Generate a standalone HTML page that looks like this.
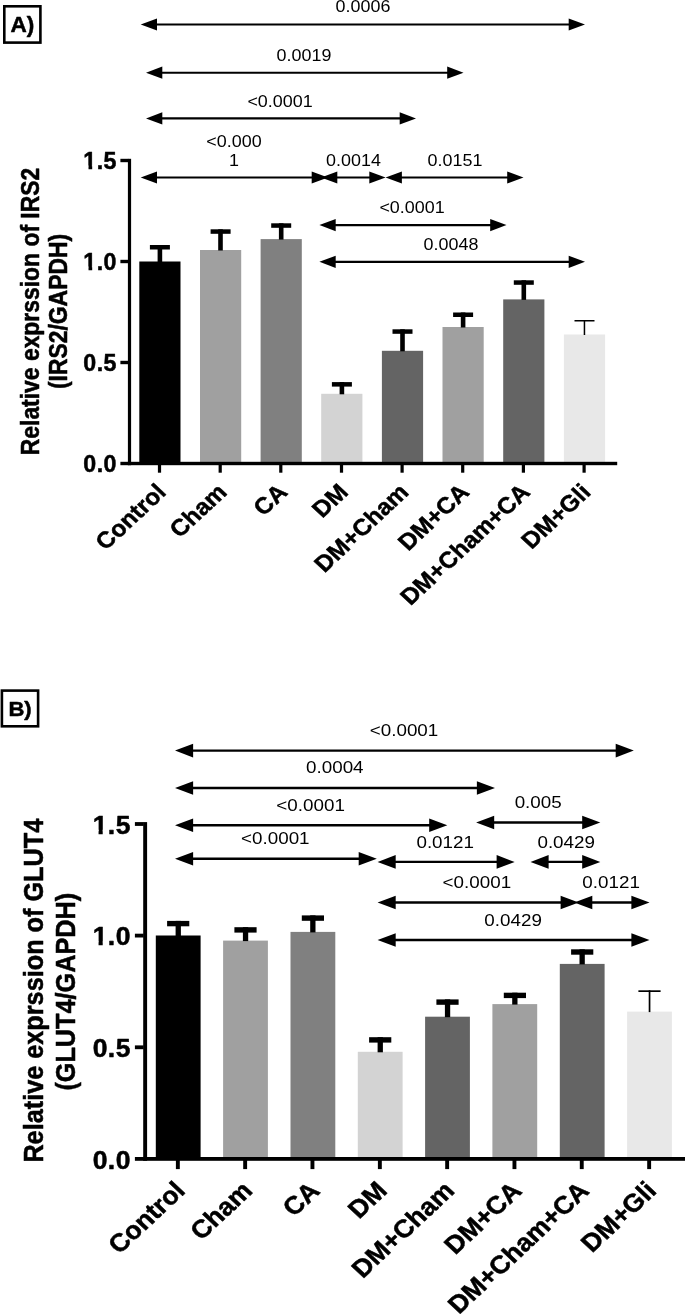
<!DOCTYPE html>
<html><head><meta charset="utf-8"><title>Figure</title>
<style>
html,body{margin:0;padding:0;background:#fff;}
body{width:685px;height:1314px;overflow:hidden;}
svg{display:block;will-change:transform;font-family:'Liberation Sans', Arial, sans-serif;}
</style></head><body>
<svg width="685" height="1314" viewBox="0 0 685 1314" fill="#000">
<rect width="685" height="1314" fill="#fff"/>
<rect x="139.3" y="261.5" width="41.2" height="202.0" fill="#000000"/>
<rect x="157.6" y="245.0" width="4.6" height="17.0" fill="#000"/>
<rect x="149.9" y="245.0" width="20.0" height="4.5" fill="#000"/>
<rect x="157.9" y="463.5" width="3.2" height="9.2" fill="#000"/>
<text transform="translate(167.4,493.5) scale(1.07,1) rotate(-45)" font-size="23.00" text-anchor="end" font-weight="bold" stroke="#000" stroke-width="0.5" stroke-linejoin="round">Control</text>
<rect x="200.0" y="250.0" width="41.2" height="213.5" fill="#a0a0a0"/>
<rect x="218.2" y="229.3" width="4.6" height="21.2" fill="#000"/>
<rect x="210.6" y="229.3" width="20.0" height="4.5" fill="#000"/>
<rect x="218.6" y="463.5" width="3.2" height="9.2" fill="#000"/>
<text transform="translate(228.1,493.5) scale(1.07,1) rotate(-45)" font-size="23.00" text-anchor="end" font-weight="bold" stroke="#000" stroke-width="0.5" stroke-linejoin="round">Cham</text>
<rect x="260.6" y="239.1" width="41.2" height="224.4" fill="#808080"/>
<rect x="278.9" y="223.3" width="4.6" height="16.3" fill="#000"/>
<rect x="271.2" y="223.3" width="20.0" height="4.5" fill="#000"/>
<rect x="279.2" y="463.5" width="3.2" height="9.2" fill="#000"/>
<text transform="translate(288.7,493.5) scale(1.07,1) rotate(-45)" font-size="23.00" text-anchor="end" font-weight="bold" stroke="#000" stroke-width="0.5" stroke-linejoin="round">CA</text>
<rect x="321.2" y="393.8" width="41.2" height="69.7" fill="#d3d3d3"/>
<rect x="339.6" y="382.1" width="4.6" height="12.2" fill="#000"/>
<rect x="331.9" y="382.1" width="20.0" height="4.5" fill="#000"/>
<rect x="339.9" y="463.5" width="3.2" height="9.2" fill="#000"/>
<text transform="translate(349.4,493.5) scale(1.07,1) rotate(-45)" font-size="23.00" text-anchor="end" font-weight="bold" stroke="#000" stroke-width="0.5" stroke-linejoin="round">DM</text>
<rect x="381.9" y="350.8" width="41.2" height="112.7" fill="#646464"/>
<rect x="400.2" y="329.3" width="4.6" height="22.0" fill="#000"/>
<rect x="392.5" y="329.3" width="20.0" height="4.5" fill="#000"/>
<rect x="400.5" y="463.5" width="3.2" height="9.2" fill="#000"/>
<text transform="translate(410.0,493.5) scale(1.07,1) rotate(-45)" font-size="23.00" text-anchor="end" font-weight="bold" stroke="#000" stroke-width="0.5" stroke-linejoin="round">DM+Cham</text>
<rect x="442.5" y="327.0" width="41.2" height="136.5" fill="#a0a0a0"/>
<rect x="460.8" y="312.5" width="4.6" height="15.0" fill="#000"/>
<rect x="453.1" y="312.5" width="20.0" height="4.5" fill="#000"/>
<rect x="461.1" y="463.5" width="3.2" height="9.2" fill="#000"/>
<text transform="translate(470.6,493.5) scale(1.07,1) rotate(-45)" font-size="23.00" text-anchor="end" font-weight="bold" stroke="#000" stroke-width="0.5" stroke-linejoin="round">DM+CA</text>
<rect x="503.2" y="299.4" width="41.2" height="164.1" fill="#646464"/>
<rect x="521.5" y="280.3" width="4.6" height="19.6" fill="#000"/>
<rect x="513.8" y="280.3" width="20.0" height="4.5" fill="#000"/>
<rect x="521.8" y="463.5" width="3.2" height="9.2" fill="#000"/>
<text transform="translate(531.3,493.5) scale(1.07,1) rotate(-45)" font-size="23.00" text-anchor="end" font-weight="bold" stroke="#000" stroke-width="0.5" stroke-linejoin="round">DM+Cham+CA</text>
<rect x="563.9" y="334.5" width="41.2" height="129.0" fill="#e8e8e8"/>
<rect x="583.7" y="320.0" width="1.5" height="15.0" fill="#000"/>
<rect x="574.5" y="320.0" width="20.0" height="1.5" fill="#000"/>
<rect x="582.5" y="463.5" width="3.2" height="9.2" fill="#000"/>
<text transform="translate(592.0,493.5) scale(1.07,1) rotate(-45)" font-size="23.00" text-anchor="end" font-weight="bold" stroke="#000" stroke-width="0.5" stroke-linejoin="round">DM+Gli</text>
<rect x="127.9" y="158.8" width="3.2" height="306.4" fill="#000"/>
<rect x="127.9" y="461.8" width="489.3" height="3.4" fill="#000"/>
<rect x="120.4" y="461.8" width="8.0" height="3.4" fill="#000"/>
<g transform="translate(116.4,472.3) scale(1.0,1)"><text x="-33.05" y="0" font-size="23.20" font-weight="bold" stroke="#000" stroke-width="0.5" stroke-linejoin="round" letter-spacing="0.40">0.0</text></g>
<rect x="120.4" y="360.8" width="8.0" height="3.4" fill="#000"/>
<g transform="translate(116.4,371.3) scale(1.0,1)"><text x="-33.05" y="0" font-size="23.20" font-weight="bold" stroke="#000" stroke-width="0.5" stroke-linejoin="round" letter-spacing="0.40">0.5</text></g>
<rect x="120.4" y="259.8" width="8.0" height="3.4" fill="#000"/>
<g transform="translate(116.4,270.3) scale(1.0,1)"><text x="-33.05" y="0" font-size="23.20" font-weight="bold" stroke="#000" stroke-width="0.5" stroke-linejoin="round" letter-spacing="0.40">1.0</text><rect x="-32.44" y="-3.72" width="4.55" height="5.47" fill="#fff"/><rect x="-24.20" y="-3.72" width="4.26" height="5.47" fill="#fff"/></g>
<rect x="120.4" y="158.8" width="8.0" height="3.4" fill="#000"/>
<g transform="translate(116.4,169.3) scale(1.0,1)"><text x="-33.05" y="0" font-size="23.20" font-weight="bold" stroke="#000" stroke-width="0.5" stroke-linejoin="round" letter-spacing="0.40">1.5</text><rect x="-32.44" y="-3.72" width="4.55" height="5.47" fill="#fff"/><rect x="-24.20" y="-3.72" width="4.26" height="5.47" fill="#fff"/></g>
<text transform="translate(38.8,311.5) scale(1.087,1) rotate(-90)" font-size="22.90" text-anchor="middle" font-weight="bold" stroke="#000" stroke-width="0.5" stroke-linejoin="round">Relative exprssion of IRS2</text>
<text transform="translate(67.2,311.5) scale(1.087,1) rotate(-90)" font-size="22.90" text-anchor="middle" font-weight="bold" stroke="#000" stroke-width="0.5" stroke-linejoin="round">(IRS2/GAPDH)</text>
<line x1="156.0" y1="24.5" x2="569.7" y2="24.5" stroke="#000" stroke-width="2.15"/><polygon points="140.7,24.5 157.0,18.4 157.0,30.6"/><polygon points="585.0,24.5 568.7,18.4 568.7,30.6"/>
<line x1="161.3" y1="72.7" x2="448.2" y2="72.7" stroke="#000" stroke-width="2.15"/><polygon points="146.0,72.7 162.3,66.6 162.3,78.8"/><polygon points="463.5,72.7 447.2,66.6 447.2,78.8"/>
<line x1="161.3" y1="118.4" x2="400.7" y2="118.4" stroke="#000" stroke-width="2.15"/><polygon points="146.0,118.4 162.3,112.3 162.3,124.5"/><polygon points="416.0,118.4 399.7,112.3 399.7,124.5"/>
<line x1="156.0" y1="177.5" x2="312.7" y2="177.5" stroke="#000" stroke-width="2.15"/><polygon points="140.7,177.5 157.0,171.4 157.0,183.6"/><polygon points="328.0,177.5 311.7,171.4 311.7,183.6"/>
<line x1="336.3" y1="177.5" x2="370.3" y2="177.5" stroke="#000" stroke-width="2.15"/><polygon points="321.0,177.5 337.3,171.4 337.3,183.6"/><polygon points="385.6,177.5 369.3,171.4 369.3,183.6"/>
<line x1="400.9" y1="177.5" x2="508.2" y2="177.5" stroke="#000" stroke-width="2.15"/><polygon points="385.6,177.5 401.9,171.4 401.9,183.6"/><polygon points="523.5,177.5 507.2,171.4 507.2,183.6"/>
<line x1="334.7" y1="225.1" x2="491.2" y2="225.1" stroke="#000" stroke-width="2.15"/><polygon points="319.4,225.1 335.7,219.0 335.7,231.2"/><polygon points="506.5,225.1 490.2,219.0 490.2,231.2"/>
<line x1="334.7" y1="261.8" x2="569.7" y2="261.8" stroke="#000" stroke-width="2.15"/><polygon points="319.4,261.8 335.7,255.7 335.7,267.9"/><polygon points="585.0,261.8 568.7,255.7 568.7,267.9"/>
<text transform="translate(363.0,12.0) scale(1.12,1)" font-size="16.00" text-anchor="middle">0.0006</text>
<text transform="translate(304.0,60.8) scale(1.12,1)" font-size="16.00" text-anchor="middle">0.0019</text>
<text transform="translate(280.0,106.6) scale(1.12,1)" font-size="16.00" text-anchor="middle">&lt;0.0001</text>
<text transform="translate(234.0,147.0) scale(1.12,1)" font-size="16.00" text-anchor="middle">&lt;0.000</text>
<text transform="translate(234.0,165.5) scale(1.12,1)" font-size="16.00" text-anchor="middle">1</text>
<text transform="translate(353.5,165.5) scale(1.12,1)" font-size="16.00" text-anchor="middle">0.0014</text>
<text transform="translate(455.0,165.5) scale(1.12,1)" font-size="16.00" text-anchor="middle">0.0151</text>
<text transform="translate(412.0,213.0) scale(1.12,1)" font-size="16.00" text-anchor="middle">&lt;0.0001</text>
<text transform="translate(451.0,250.0) scale(1.12,1)" font-size="16.00" text-anchor="middle">0.0048</text>
<rect x="4.3" y="6.3" width="36.1" height="36.3" fill="#fff" stroke="#000" stroke-width="2.6"/>
<text transform="translate(22.4,31.9) scale(1.05,1)" font-size="21.50" text-anchor="middle" font-weight="bold" stroke="#000" stroke-width="0.5" stroke-linejoin="round">A)</text>
<rect x="155.8" y="935.5" width="44.8" height="223.4" fill="#000000"/>
<rect x="175.6" y="920.9" width="5.3" height="15.1" fill="#000"/>
<rect x="167.1" y="920.9" width="22.2" height="5.4" fill="#000"/>
<rect x="175.9" y="1158.9" width="3.9" height="10.2" fill="#000"/>
<text transform="translate(186.5,1192.1) scale(1.07,1) rotate(-45)" font-size="25.04" text-anchor="end" font-weight="bold" stroke="#000" stroke-width="0.5" stroke-linejoin="round">Control</text>
<rect x="223.1" y="940.6" width="44.8" height="218.3" fill="#a0a0a0"/>
<rect x="242.9" y="927.2" width="5.3" height="13.9" fill="#000"/>
<rect x="234.4" y="927.2" width="22.2" height="5.4" fill="#000"/>
<rect x="243.2" y="1158.9" width="3.9" height="10.2" fill="#000"/>
<text transform="translate(253.8,1192.1) scale(1.07,1) rotate(-45)" font-size="25.04" text-anchor="end" font-weight="bold" stroke="#000" stroke-width="0.5" stroke-linejoin="round">Cham</text>
<rect x="290.5" y="931.9" width="44.8" height="227.0" fill="#808080"/>
<rect x="310.2" y="915.4" width="5.3" height="17.0" fill="#000"/>
<rect x="301.8" y="915.4" width="22.2" height="5.4" fill="#000"/>
<rect x="310.5" y="1158.9" width="3.9" height="10.2" fill="#000"/>
<text transform="translate(321.2,1192.1) scale(1.07,1) rotate(-45)" font-size="25.04" text-anchor="end" font-weight="bold" stroke="#000" stroke-width="0.5" stroke-linejoin="round">CA</text>
<rect x="357.8" y="1051.8" width="44.8" height="107.1" fill="#d3d3d3"/>
<rect x="377.6" y="1037.2" width="5.3" height="15.1" fill="#000"/>
<rect x="369.1" y="1037.2" width="22.2" height="5.4" fill="#000"/>
<rect x="377.9" y="1158.9" width="3.9" height="10.2" fill="#000"/>
<text transform="translate(388.5,1192.1) scale(1.07,1) rotate(-45)" font-size="25.04" text-anchor="end" font-weight="bold" stroke="#000" stroke-width="0.5" stroke-linejoin="round">DM</text>
<rect x="425.1" y="1016.7" width="44.8" height="142.2" fill="#646464"/>
<rect x="444.9" y="999.4" width="5.3" height="17.8" fill="#000"/>
<rect x="436.4" y="999.4" width="22.2" height="5.4" fill="#000"/>
<rect x="445.2" y="1158.9" width="3.9" height="10.2" fill="#000"/>
<text transform="translate(455.8,1192.1) scale(1.07,1) rotate(-45)" font-size="25.04" text-anchor="end" font-weight="bold" stroke="#000" stroke-width="0.5" stroke-linejoin="round">DM+Cham</text>
<rect x="492.4" y="1004.1" width="44.8" height="154.8" fill="#a0a0a0"/>
<rect x="512.2" y="992.7" width="5.3" height="11.9" fill="#000"/>
<rect x="503.8" y="992.7" width="22.2" height="5.4" fill="#000"/>
<rect x="512.5" y="1158.9" width="3.9" height="10.2" fill="#000"/>
<text transform="translate(523.1,1192.1) scale(1.07,1) rotate(-45)" font-size="25.04" text-anchor="end" font-weight="bold" stroke="#000" stroke-width="0.5" stroke-linejoin="round">DM+CA</text>
<rect x="559.8" y="963.9" width="44.8" height="195.0" fill="#646464"/>
<rect x="579.5" y="949.3" width="5.3" height="15.1" fill="#000"/>
<rect x="571.1" y="949.3" width="22.2" height="5.4" fill="#000"/>
<rect x="579.8" y="1158.9" width="3.9" height="10.2" fill="#000"/>
<text transform="translate(590.5,1192.1) scale(1.07,1) rotate(-45)" font-size="25.04" text-anchor="end" font-weight="bold" stroke="#000" stroke-width="0.5" stroke-linejoin="round">DM+Cham+CA</text>
<rect x="627.1" y="1011.6" width="44.8" height="147.3" fill="#e8e8e8"/>
<rect x="648.7" y="990.3" width="1.7" height="21.8" fill="#000"/>
<rect x="638.4" y="990.3" width="22.2" height="1.7" fill="#000"/>
<rect x="647.2" y="1158.9" width="3.9" height="10.2" fill="#000"/>
<text transform="translate(657.8,1192.1) scale(1.07,1) rotate(-45)" font-size="25.04" text-anchor="end" font-weight="bold" stroke="#000" stroke-width="0.5" stroke-linejoin="round">DM+Gli</text>
<rect x="143.2" y="822.1" width="3.9" height="338.7" fill="#000"/>
<rect x="143.2" y="1157.0" width="546.8" height="3.8" fill="#000"/>
<rect x="134.9" y="1157.0" width="8.8" height="3.8" fill="#000"/>
<g transform="translate(130.4,1168.7) scale(1.04,1)"><text x="-36.31" y="0" font-size="25.48" font-weight="bold" stroke="#000" stroke-width="0.5" stroke-linejoin="round" letter-spacing="0.44">0.0</text></g>
<rect x="134.9" y="1045.4" width="8.8" height="3.8" fill="#000"/>
<g transform="translate(130.4,1057.0) scale(1.04,1)"><text x="-36.31" y="0" font-size="25.48" font-weight="bold" stroke="#000" stroke-width="0.5" stroke-linejoin="round" letter-spacing="0.44">0.5</text></g>
<rect x="134.9" y="933.7" width="8.8" height="3.8" fill="#000"/>
<g transform="translate(130.4,945.4) scale(1.04,1)"><text x="-36.31" y="0" font-size="25.48" font-weight="bold" stroke="#000" stroke-width="0.5" stroke-linejoin="round" letter-spacing="0.44">1.0</text><rect x="-35.56" y="-3.95" width="4.94" height="5.70" fill="#fff"/><rect x="-26.62" y="-3.95" width="4.62" height="5.70" fill="#fff"/></g>
<rect x="134.9" y="822.1" width="8.8" height="3.8" fill="#000"/>
<g transform="translate(130.4,833.7) scale(1.04,1)"><text x="-36.31" y="0" font-size="25.48" font-weight="bold" stroke="#000" stroke-width="0.5" stroke-linejoin="round" letter-spacing="0.44">1.5</text><rect x="-35.56" y="-3.95" width="4.94" height="5.70" fill="#fff"/><rect x="-26.62" y="-3.95" width="4.62" height="5.70" fill="#fff"/></g>
<text transform="translate(43.0,990.7) scale(1.087,1) rotate(-90)" font-size="25.26" text-anchor="middle" font-weight="bold" stroke="#000" stroke-width="0.5" stroke-linejoin="round">Relative exprssion of GLUT4</text>
<text transform="translate(74.8,991.7) scale(1.087,1) rotate(-90)" font-size="25.26" text-anchor="middle" font-weight="bold" stroke="#000" stroke-width="0.5" stroke-linejoin="round">(GLUT4/GAPDH)</text>
<line x1="192.1" y1="750.6" x2="616.7" y2="750.6" stroke="#000" stroke-width="2.38"/><polygon points="175.0,750.6 193.1,743.8 193.1,757.4"/><polygon points="633.8,750.6 615.7,743.8 615.7,757.4"/>
<line x1="192.1" y1="788.0" x2="477.9" y2="788.0" stroke="#000" stroke-width="2.38"/><polygon points="175.0,788.0 193.1,781.2 193.1,794.8"/><polygon points="495.0,788.0 476.9,781.2 476.9,794.8"/>
<line x1="192.1" y1="825.2" x2="430.2" y2="825.2" stroke="#000" stroke-width="2.38"/><polygon points="175.0,825.2 193.1,818.4 193.1,832.0"/><polygon points="447.3,825.2 429.2,818.4 429.2,832.0"/>
<line x1="192.1" y1="858.7" x2="359.7" y2="858.7" stroke="#000" stroke-width="2.38"/><polygon points="175.0,858.7 193.1,851.9 193.1,865.5"/><polygon points="376.8,858.7 358.7,851.9 358.7,865.5"/>
<line x1="493.2" y1="822.5" x2="583.2" y2="822.5" stroke="#000" stroke-width="2.38"/><polygon points="476.1,822.5 494.2,815.7 494.2,829.3"/><polygon points="600.3,822.5 582.2,815.7 582.2,829.3"/>
<line x1="394.7" y1="861.9" x2="497.6" y2="861.9" stroke="#000" stroke-width="2.38"/><polygon points="377.6,861.9 395.7,855.1 395.7,868.7"/><polygon points="514.7,861.9 496.6,855.1 496.6,868.7"/>
<line x1="547.6" y1="861.9" x2="583.2" y2="861.9" stroke="#000" stroke-width="2.38"/><polygon points="530.5,861.9 548.6,855.1 548.6,868.7"/><polygon points="600.3,861.9 582.2,855.1 582.2,868.7"/>
<line x1="394.7" y1="902.5" x2="561.6" y2="902.5" stroke="#000" stroke-width="2.38"/><polygon points="377.6,902.5 395.7,895.7 395.7,909.3"/><polygon points="578.7,902.5 560.6,895.7 560.6,909.3"/>
<line x1="591.3" y1="902.5" x2="632.4" y2="902.5" stroke="#000" stroke-width="2.38"/><polygon points="574.2,902.5 592.3,895.7 592.3,909.3"/><polygon points="649.5,902.5 631.4,895.7 631.4,909.3"/>
<line x1="394.7" y1="940.0" x2="632.4" y2="940.0" stroke="#000" stroke-width="2.38"/><polygon points="377.6,940.0 395.7,933.2 395.7,946.8"/><polygon points="649.5,940.0 631.4,933.2 631.4,946.8"/>
<text transform="translate(404.0,735.8) scale(1.09,1)" font-size="17.28" text-anchor="middle">&lt;0.0001</text>
<text transform="translate(334.8,773.2) scale(1.09,1)" font-size="17.28" text-anchor="middle">0.0004</text>
<text transform="translate(310.6,810.7) scale(1.09,1)" font-size="17.28" text-anchor="middle">&lt;0.0001</text>
<text transform="translate(275.3,844.2) scale(1.09,1)" font-size="17.28" text-anchor="middle">&lt;0.0001</text>
<text transform="translate(538.2,807.5) scale(1.09,1)" font-size="17.28" text-anchor="middle">0.005</text>
<text transform="translate(445.2,848.1) scale(1.09,1)" font-size="17.28" text-anchor="middle">0.0121</text>
<text transform="translate(566.2,848.1) scale(1.09,1)" font-size="17.28" text-anchor="middle">0.0429</text>
<text transform="translate(476.9,888.3) scale(1.09,1)" font-size="17.28" text-anchor="middle">&lt;0.0001</text>
<text transform="translate(611.1,888.3) scale(1.09,1)" font-size="17.28" text-anchor="middle">0.0121</text>
<text transform="translate(513.1,925.8) scale(1.09,1)" font-size="17.28" text-anchor="middle">0.0429</text>
<rect x="1.9" y="690.6" width="36.2" height="35.7" fill="#fff" stroke="#000" stroke-width="2.6"/>
<text transform="translate(20.0,715.8) scale(1.05,1)" font-size="21.00" text-anchor="middle" font-weight="bold" stroke="#000" stroke-width="0.5" stroke-linejoin="round">B)</text>
</svg>
</body></html>
